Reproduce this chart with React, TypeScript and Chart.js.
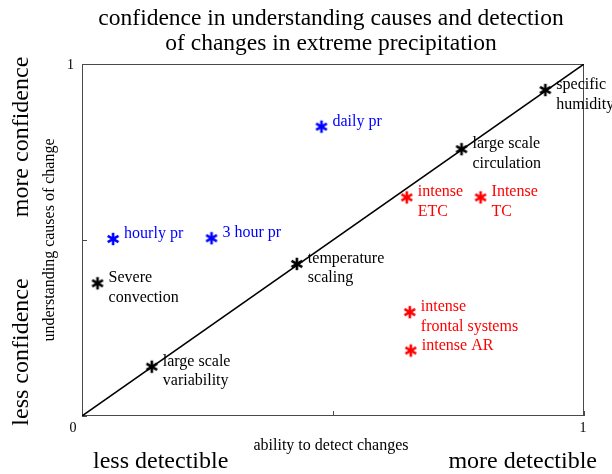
import React, { useEffect, useRef } from 'react';
import { Chart, registerables } from 'chart.js';

Chart.register(...registerables);

const titleLines = ['confidence in understanding causes and detection', 'of changes in extreme precipitation'];
const xAxisTitle = 'ability to detect changes';
const yAxisTitle = 'understanding causes of change';
const xEndLabels = ['less detectible', 'more detectible'];
const yEndLabels = ['less confidence', 'more confidence'];

const xTickValues = [0, 0.5, 1];
const xTickLabels = ['0', '', '1'];
const yTickValues = [0, 0.5, 1];
const yTickLabels = ['', '', '1'];

const diagonalX = [0, 1];
const diagonalY = [0, 1];

const blackLabels = [['specific', 'humidity'], ['large scale', 'circulation'], ['temperature', 'scaling'], ['large scale', 'variability'], ['Severe', 'convection']];
const blackX = [0.923, 0.756, 0.428, 0.139, 0.031];
const blackY = [0.926, 0.758, 0.432, 0.140, 0.377];

const blueLabels = [['daily pr'], ['hourly pr'], ['3 hour pr']];
const blueX = [0.477, 0.062, 0.258];
const blueY = [0.822, 0.503, 0.505];

const redLabels = [['intense', 'ETC'], ['Intense', 'TC'], ['intense', 'frontal systems'], ['intense AR']];
const redX = [0.647, 0.794, 0.653, 0.655];
const redY = [0.621, 0.621, 0.295, 0.186];

const SERIF = '"Liberation Serif", "Times New Roman", serif';

function asterisk(color: string): HTMLCanvasElement {
  const c = document.createElement('canvas');
  const s = 16;
  c.width = s;
  c.height = s;
  const g = c.getContext('2d')!;
  g.strokeStyle = color;
  g.lineWidth = 2.6;
  g.lineCap = 'butt';
  const r = 6.2;
  const cx = s / 2;
  const cy = s / 2;
  for (let k = 0; k < 3; k++) {
    const ang = Math.PI / 2 + (k * Math.PI) / 3;
    g.beginPath();
    g.moveTo(cx + r * Math.cos(ang), cy + r * Math.sin(ang));
    g.lineTo(cx - r * Math.cos(ang), cy - r * Math.sin(ang));
    g.stroke();
  }
  return c;
}

function pts(xs: number[], ys: number[]) {
  return xs.map((x, i) => ({ x, y: ys[i] }));
}

const annotate = {
  id: 'annotate',
  beforeDatasetsDraw(chart: any) {
    const { ctx, chartArea: a, scales } = chart;
    ctx.save();
    ctx.strokeStyle = '#4a4a4a';
    ctx.lineWidth = 1;
    ctx.strokeRect(a.left + 0.5, a.top + 0.5, a.right - a.left - 1, a.bottom - a.top - 1);
    ctx.beginPath();
    xTickValues.forEach((v) => {
      const px = Math.round(scales.x.getPixelForValue(v)) + 0.5;
      ctx.moveTo(px, a.bottom);
      ctx.lineTo(px, a.bottom - 5);
    });
    yTickValues.forEach((v) => {
      const py = Math.round(scales.y.getPixelForValue(v)) + 0.5;
      ctx.moveTo(a.left, py);
      ctx.lineTo(a.left + 5, py);
    });
    ctx.stroke();
    ctx.restore();
  },
  afterDatasetsDraw(chart: any) {
    const { ctx } = chart;
    ctx.save();
    ctx.font = `16px ${SERIF}`;
    ctx.textAlign = 'left';
    ctx.textBaseline = 'alphabetic';
    chart.data.datasets.forEach((ds: any, i: number) => {
      if (!ds.pointLabels) return;
      const meta = chart.getDatasetMeta(i);
      ctx.fillStyle = ds.labelColor;
      meta.data.forEach((el: any, j: number) => {
        const lines: string[] = ds.pointLabels[j];
        lines.forEach((ln, k) => {
          ctx.fillText(ln, el.x + 11, el.y - 1 + k * 19.5);
        });
      });
    });
    ctx.restore();
  },
  afterDraw(chart: any) {
    const { ctx, chartArea: a, scales } = chart;
    ctx.save();
    ctx.fillStyle = '#000';
    ctx.font = `14px ${SERIF}`;
    ctx.textAlign = 'center';
    ctx.textBaseline = 'middle';
    xTickValues.forEach((v, i) => {
      if (!xTickLabels[i]) return;
      const px = scales.x.getPixelForValue(v) + (v === 0 ? -9 : -1);
      ctx.fillText(xTickLabels[i], px, a.bottom + 12);
    });
    ctx.textAlign = 'right';
    yTickValues.forEach((v, i) => {
      if (!yTickLabels[i]) return;
      ctx.fillText(yTickLabels[i], a.left - 8, scales.y.getPixelForValue(v) + 1);
    });
    const cx = (a.left + a.right) / 2 - 2;
    ctx.font = `23.5px ${SERIF}`;
    ctx.textAlign = 'center';
    ctx.textBaseline = 'alphabetic';
    ctx.fillText(titleLines[0], cx, 25);
    ctx.fillText(titleLines[1], cx, 50);
    ctx.font = `16px ${SERIF}`;
    ctx.fillText(xAxisTitle, cx, 450);
    ctx.font = `24px ${SERIF}`;
    ctx.textAlign = 'left';
    ctx.fillText(xEndLabels[0], 93, 468);
    ctx.textAlign = 'right';
    ctx.fillText(xEndLabels[1], 597, 468);
    ctx.save();
    ctx.translate(50, (a.top + a.bottom) / 2);
    ctx.rotate(-Math.PI / 2);
    ctx.font = `16px ${SERIF}`;
    ctx.textAlign = 'center';
    ctx.textBaseline = 'middle';
    ctx.fillText(yAxisTitle, 0, 0);
    ctx.restore();
    ctx.font = `24px ${SERIF}`;
    ctx.textAlign = 'center';
    ctx.textBaseline = 'middle';
    ctx.save();
    ctx.translate(22, 137);
    ctx.rotate(-Math.PI / 2);
    ctx.fillText(yEndLabels[1], 0, 0);
    ctx.restore();
    ctx.save();
    ctx.translate(22, 352);
    ctx.rotate(-Math.PI / 2);
    ctx.fillText(yEndLabels[0], 0, 0);
    ctx.restore();
    ctx.restore();
  },
};

export default function App() {
  const ref = useRef<HTMLCanvasElement | null>(null);
  useEffect(() => {
    if (!ref.current) return;
    const chart = new Chart(ref.current, {
      type: 'scatter',
      data: {
        datasets: [
          {
            label: 'black',
            data: pts(blackX, blackY),
            pointStyle: asterisk('#000000'),
            pointRadius: 7,
            borderColor: '#000',
            backgroundColor: '#000',
            pointLabels: blackLabels,
            labelColor: '#000000',
          } as any,
          {
            label: 'blue',
            data: pts(blueX, blueY),
            pointStyle: asterisk('#0000ff'),
            pointRadius: 7,
            borderColor: '#0000ff',
            backgroundColor: '#0000ff',
            pointLabels: blueLabels,
            labelColor: '#0000ff',
          } as any,
          {
            label: 'red',
            data: pts(redX, redY),
            pointStyle: asterisk('#ff0000'),
            pointRadius: 7,
            borderColor: '#ff0000',
            backgroundColor: '#ff0000',
            pointLabels: redLabels,
            labelColor: '#ff0000',
          } as any,
          {
            type: 'line',
            label: 'diagonal',
            data: pts(diagonalX, diagonalY),
            borderColor: '#000',
            borderWidth: 1.5,
            pointRadius: 0,
            showLine: true,
            fill: false,
          } as any,
        ],
      },
      options: {
        animation: false,
        responsive: false,
        maintainAspectRatio: false,
        events: [],
        layout: { padding: { left: 82, right: 28, top: 64, bottom: 58 } },
        plugins: { legend: { display: false }, tooltip: { enabled: false }, title: { display: false } },
        scales: {
          x: { type: 'linear', min: 0, max: 1, display: false },
          y: { type: 'linear', min: 0, max: 1, display: false },
        },
      },
      plugins: [annotate],
    });
    return () => chart.destroy();
  }, []);
  return (
    <div style={{ position: 'absolute', left: 0, top: 0, width: 612, height: 474, background: '#fff' }}>
      <canvas ref={ref} width={612} height={474} style={{ width: 612, height: 474, display: 'block' }} />
    </div>
  );
}
